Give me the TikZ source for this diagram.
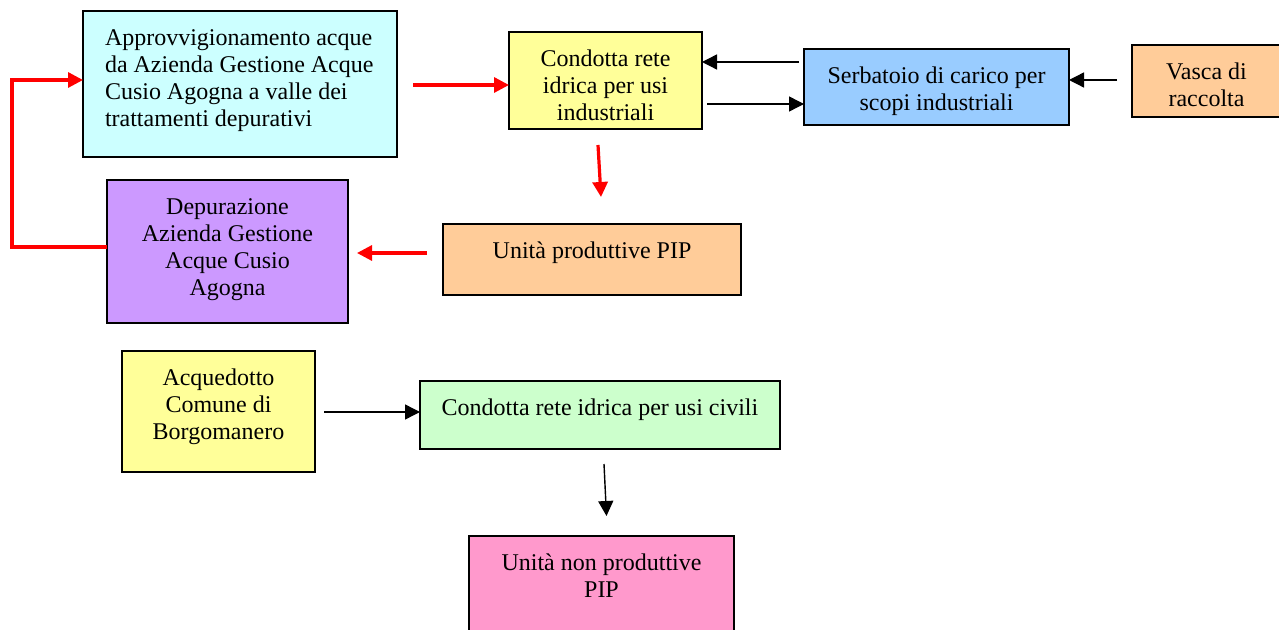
\documentclass[tikz,border=0pt]{standalone}
\usepackage{fontspec}
\setmainfont{Liberation Serif}
\usetikzlibrary{arrows.meta}
\definecolor{cA}{HTML}{CCFFFF}
\definecolor{cY}{HTML}{FFFF99}
\definecolor{cB}{HTML}{99CCFF}
\definecolor{cO}{HTML}{FFCC99}
\definecolor{cV}{HTML}{CC99FF}
\definecolor{cG}{HTML}{CCFFCC}
\definecolor{cP}{HTML}{FF99CC}
\definecolor{rd}{HTML}{FF0000}
\newcommand\boxfont{\fontsize{12pt}{13.5pt}\selectfont}
% #1 name, #2 x1, #3 y1, #4 x2, #5 y2 (pixels), #6 fill, #7 alignment, #8 text
\newcommand\flowbox[8]{%
  \node[boxst, fill=#6, minimum width={(#4-#2)*0.5pt}, minimum height={(#5-#3)*0.5pt}] (#1) at (#2,#3)
  {\parbox[c][\dimexpr#5pt/2-#3pt/2\relax][t]{\dimexpr#4pt/2-#2pt/2\relax}{\boxfont#7\vspace*{7.8pt}\strut#8\par}};}
\tikzset{
  boxst/.style={draw=black, line width=1pt, anchor=north west, inner sep=0pt, outer sep=0pt},
  redarr/.style={draw=rd, line width=1.6pt, -{Triangle[length=7.5pt,width=7.5pt]}},
  blkarr/.style={draw=black, line width=0.7pt, -{Triangle[length=7.5pt,width=7.5pt]}}
}
\begin{document}
\begin{tikzpicture}[x=0.5pt,y=-0.5pt]
\useasboundingbox (0,0) rectangle (1279,630);
\clip (0,0) rectangle (1279,630);
\fill[white] (0,0) rectangle (1279,630);
\flowbox{A}{83}{11}{397}{157}{cA}{\leftskip=11pt\rightskip=0pt plus 1fil}{Approvvigionamento acque\\da Azienda Gestione Acque\\Cusio Agogna a valle dei\\trattamenti depurativi}
\flowbox{C}{509}{32}{702}{129}{cY}{\centering}{Condotta rete\\idrica per usi\\industriali}
\flowbox{S}{804}{49}{1069}{125}{cB}{\centering}{Serbatoio di carico per\\scopi industriali}
\flowbox{V}{1132}{45}{1281}{117}{cO}{\centering}{Vasca di\\raccolta}
\flowbox{D}{107}{180}{348}{323}{cV}{\centering}{Depurazione\\Azienda Gestione\\Acque Cusio\\Agogna}
\flowbox{U}{443}{224}{741}{295}{cO}{\centering}{Unità produttive PIP}
\flowbox{Q}{122}{351}{315}{472}{cY}{\centering}{Acquedotto\\Comune di\\Borgomanero}
\flowbox{K}{420}{381}{780}{449}{cG}{\centering}{Condotta rete idrica per usi civili}
\flowbox{N}{469}{536}{734}{660}{cP}{\centering}{Unità non produttive\\PIP}
% red connectors
\draw[redarr] ([yshift=2.25pt]D.west) -- ++(-95,0) |- ([yshift=2pt]A.west);
\draw[redarr] ([xshift=8pt,yshift=-0.5pt]A.east) -- ([yshift=-2.25pt]C.west);
\draw[redarr] ([xshift=-3.75pt,yshift=-8pt]C.south) -- ([xshift=4.5pt,yshift=13.5pt]U.north);
\draw[redarr] ([xshift=-8pt,yshift=3.25pt]U.west) -- ([xshift=4.5pt,yshift=-0.75pt]D.east);
% black connectors
\draw[blkarr] ([xshift=-2.5pt,yshift=12.5pt]S.west) -- ([yshift=9.25pt]C.east);
\draw[blkarr] ([xshift=2.5pt,yshift=-11.75pt]C.east) -- ([yshift=-8.5pt]S.west);
\draw[blkarr] ([xshift=-7.5pt,yshift=0.5pt]V.west) -- ([yshift=3.5pt]S.east);
\draw[blkarr] ([xshift=4.5pt,yshift=-0.25pt]Q.east) -- ([yshift=1.5pt]K.west);
\draw[blkarr] ([xshift=2pt,yshift=-7.5pt]K.south) -- ([xshift=2.5pt,yshift=10pt]N.north);
\end{tikzpicture}
\end{document}
